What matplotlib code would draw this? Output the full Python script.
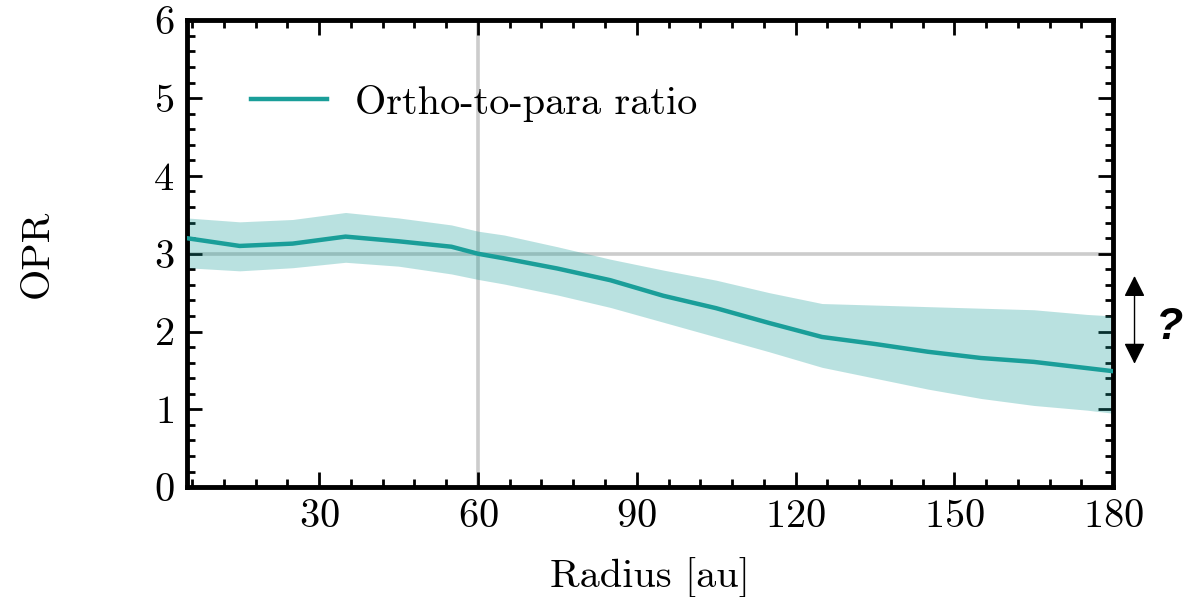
import numpy as np
import matplotlib
matplotlib.use("Agg")
import matplotlib.pyplot as plt
from matplotlib.ticker import MultipleLocator

plt.rcParams["font.family"] = "serif"
plt.rcParams["font.serif"] = ["cmr10"]
plt.rcParams["mathtext.fontset"] = "cm"
plt.rcParams["axes.formatter.use_mathtext"] = True

# radial profile of the ortho-to-para ratio
radius = [5, 15, 25, 35, 45, 55, 60, 65, 75, 85, 95, 105, 115, 125, 135, 145, 155, 165, 175, 180]
opr = [3.20, 3.10, 3.13, 3.22, 3.16, 3.09, 3.00, 2.94, 2.81, 2.66, 2.46, 2.30, 2.11, 1.93, 1.84, 1.74, 1.66, 1.61, 1.53, 1.49]
opr_hi = [3.46, 3.41, 3.44, 3.53, 3.46, 3.37, 3.29, 3.24, 3.09, 2.93, 2.79, 2.66, 2.50, 2.36, 2.34, 2.32, 2.30, 2.28, 2.22, 2.20]
opr_lo = [2.82, 2.78, 2.82, 2.89, 2.84, 2.74, 2.67, 2.61, 2.47, 2.31, 2.12, 1.93, 1.74, 1.54, 1.40, 1.26, 1.14, 1.05, 0.99, 0.95]

teal = "#1a9e99"
fs = 29

fig = plt.figure(figsize=(11.97, 5.97), dpi=100)
ax = fig.add_axes([0.156, 0.184, 0.774, 0.782])

ax.axvline(60, color="#cccccc", lw=2.6, zorder=1)
ax.axhline(3, color="#cccccc", lw=2.6, zorder=1)
ax.fill_between(radius, opr_lo, opr_hi, color=teal, alpha=0.3, lw=0, zorder=2)
ax.plot(radius, opr, color=teal, lw=3.2, label="Ortho-to-para ratio", zorder=3)

ax.set_xlim(5, 180)
ax.set_ylim(0, 6)
ax.set_xticks([30, 60, 90, 120, 150, 180])
ax.xaxis.set_minor_locator(MultipleLocator(6))
ax.yaxis.set_major_locator(MultipleLocator(1))
ax.yaxis.set_minor_locator(MultipleLocator(0.2))
ax.tick_params(which="both", direction="in", top=True, right=True, labelsize=fs, width=2)
ax.tick_params(which="major", length=11, pad=9)
ax.tick_params(which="minor", length=6)
for s in ax.spines.values():
    s.set_linewidth(3.5)

ax.set_xlabel("Radius [au]", fontsize=fs, labelpad=16)
ax.set_ylabel("OPR", fontsize=fs, labelpad=70)

ax.legend(loc="upper left", bbox_to_anchor=(0.03, 0.94), frameon=False, fontsize=fs,
          handlelength=1.9, handletextpad=0.7)

# double-headed arrow with question mark beside the right axis
ax.annotate("", xy=(1.023, 1.55), xytext=(1.023, 2.75), xycoords=("axes fraction", "data"),
            textcoords=("axes fraction", "data"), annotation_clip=False,
            arrowprops=dict(arrowstyle="<|-|>", color="black", lw=1.0, mutation_scale=32))
fig.text(0.977, 0.452, "?", fontsize=32, fontweight="bold", fontstyle="italic",
         family="Liberation Sans", ha="center", va="center")

fig.savefig("out.png", dpi=100)
